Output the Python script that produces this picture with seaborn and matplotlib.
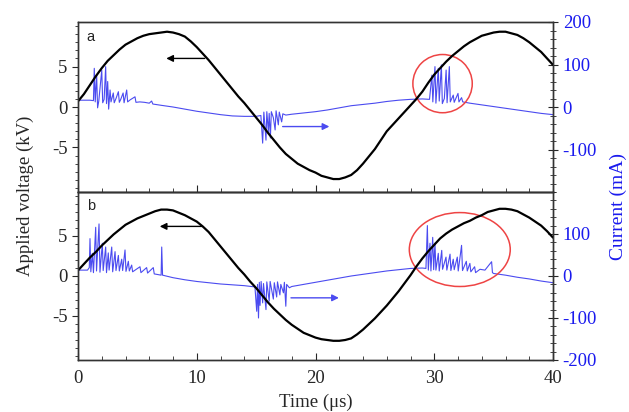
import matplotlib
matplotlib.use('Agg')
import matplotlib.pyplot as plt
from matplotlib.patches import Ellipse
from matplotlib.ticker import MultipleLocator, FixedLocator
import seaborn as sns
import pandas as pd

# applied voltage (kV), read every 0.5 us
time_us = [i * 0.5 for i in range(81)]
volt_a = [0.7, 1.6, 2.7, 3.8, 4.8, 5.7, 6.4, 7.1, 7.7, 8.1, 8.5, 8.8, 9.0, 9.1, 9.2, 9.3,
          9.2, 9.0, 8.7, 8.1, 7.4, 6.6, 5.8, 4.9, 4.0, 3.1, 2.2, 1.3, 0.5, -0.4,
          -1.3, -2.2, -3.2, -4.1, -5.0, -5.8, -6.4, -7.0, -7.4, -7.8, -8.1, -8.5, -8.7,
          -8.9, -8.9, -8.7, -8.4, -7.8, -7.0, -6.1, -5.2, -4.1, -3.0, -2.2, -1.4, -0.6,
          0.2, 1.0, 1.9, 3.0, 4.0, 4.8, 5.6, 6.3, 6.9, 7.5, 8.0, 8.4, 8.8, 9.0, 9.2,
          9.3, 9.3, 9.1, 8.9, 8.5, 8.0, 7.4, 6.8, 6.0, 5.2]
volt_b = [0.7, 1.5, 2.3, 3.0, 3.8, 4.5, 5.2, 5.8, 6.4, 6.8, 7.2, 7.5, 7.8, 8.1, 8.3, 8.3,
          8.2, 7.9, 7.6, 7.2, 6.8, 6.2, 5.5, 4.6, 3.7, 2.8, 1.9, 1.0, 0.2, -0.7,
          -1.5, -2.4, -3.3, -4.1, -4.8, -5.5, -6.1, -6.6, -7.1, -7.4, -7.7, -7.9, -8.0,
          -8.1, -8.1, -8.0, -7.8, -7.3, -6.7, -6.0, -5.3, -4.5, -3.7, -2.8, -1.9, -0.9,
          0.1, 1.2, 2.2, 3.1, 3.9, 4.7, 5.3, 5.8, 6.2, 6.6, 6.9, 7.3, 7.6, 8.0, 8.2,
          8.4, 8.4, 8.3, 8.1, 7.7, 7.3, 6.8, 6.3, 5.6, 4.8]

# discharge current (mA), panel a
cur_a_t = [0, 1.0, 1.3, 1.37, 1.45, 1.57, 1.65, 1.75, 2.0, 2.08, 2.2, 2.33, 2.4, 2.5, 2.58,
           2.7, 2.78, 2.97, 3.05, 3.2, 3.4, 3.48, 3.6, 3.8, 3.88, 4.1, 4.18, 4.4, 4.8, 4.88,
           5.2, 5.6, 6.0, 6.2, 6.3, 7, 8, 9, 10, 11, 12, 13, 14, 15, 15.4, 15.55, 15.65,
           15.83, 15.9, 16.03, 16.1, 16.2, 16.28, 16.45, 16.6, 16.68, 16.87, 16.95, 17.15,
           17.25, 17.5, 18, 19, 20, 21, 22, 23, 24, 25, 26, 27, 28, 29, 29.6, 29.8, 29.88,
           30.06, 30.14, 30.34, 30.42, 30.6, 30.68, 30.85, 31.0, 31.08, 31.27, 31.35, 31.6,
           31.68, 32.0, 32.08, 32.3, 32.4, 33, 34, 35, 36, 37, 38, 39, 40]
cur_a_ma = [16, 16, 15, 91, 12, 75, -2, 14, 87, 10, 18, 95, 8, 60, -5,
            40, 12, 33, 10, 20, 36, 11, 18, 33, 10, 40, 12, 17, 24, 11,
            12, 11, 9, 14, 7, 4, 0, -5, -10, -14, -18, -21, -22, -22, -20, -85, -12,
            -78, -11, -58, -15, -73, -11, -25, -54, -9, -42, -12, -35,
            -16, -19, -17, -14, -11, -7, -2, 3, 6, 9, 13, 16, 18, 19, 18, 75, 12,
            95, 9, 91, 14, 99, 8, 20, 87, 10, 95, 12, 28,
            11, 32, 12, 22, 12, 9, 5, 1, -3, -7, -11, -15, -18]

# discharge current (mA), panel b
cur_b_t = [0, 0.8, 0.95, 1.01, 1.08, 1.21, 1.3, 1.49, 1.56, 1.77, 1.85, 2.05, 2.12, 2.33, 2.4,
           2.55, 2.62, 2.84, 2.92, 3.12, 3.2, 3.4, 3.48, 3.68, 3.76, 3.96, 4.04, 4.24, 4.32,
           4.52, 4.6, 5.22, 5.3, 5.78, 5.86, 6.34, 6.42, 7.0, 7.05, 7.12, 8, 9, 10, 11, 12,
           13, 14, 14.9, 15.05, 15.12, 15.2, 15.27, 15.33, 15.42, 15.55, 15.62, 15.83, 15.9,
           16.1, 16.18, 16.45, 16.53, 16.73, 16.8, 17.0, 17.08, 17.3, 17.38, 17.5, 17.57,
           17.8, 18, 19, 20, 21, 22, 23, 24, 25, 26, 27, 28, 29, 29.3, 29.42, 29.5, 29.64,
           29.72, 29.87, 29.95, 30.06, 30.14, 30.34, 30.42, 30.63, 30.7, 30.99, 31.06, 31.33,
           31.4, 31.6, 31.68, 31.94, 32.02, 32.3, 32.38, 32.7, 32.78, 33.0, 33.08, 33.4,
           33.48, 33.85, 34.27, 34.83, 34.9, 35, 36, 37, 38, 39, 40]
cur_b_ma = [14, 14, 20, 89, 10, 54, 8, 116, 12, 124, 9, 78, 13, 69, 8,
            55, 14, 69, 10, 58, 13, 49, 12, 40, 13, 62, 11, 35, 12,
            26, 10, 22, 8, 20, 7, 20, 5, 2, 69, 2, -4, -9, -13, -16, -19,
            -21, -23, -26, -84, -20, -100, -15, -70, -13, -64, -18, -80, -14,
            -60, -13, -55, -16, -50, -14, -45, -20, -40, -15, -72, -20,
            -28, -25, -20, -15, -10, -5, 0, 4, 8, 12, 15, 18, 19, 18, 120, 14, 78,
            12, 92, 15, 78, 14, 54, 12, 61, 16, 45, 14, 52,
            13, 40, 15, 45, 12, 73, 13, 35, 12, 30, 10, 22,
            8, 16, 14, 34, 8, 6, 2, -3, -7, -12, -16]

volt_ticks = [-5, 0, 5]
cur_ticks_a = [-100, 0, 100, 200]
cur_ticks_b = [-200, -100, 0, 100]
time_ticks = [0, 10, 20, 30, 40]

BLUE = '#4b4bf0'
LABEL_BLUE = '#1a1aee'
RED = '#ee4444'

sns.set_style('ticks')
plt.rcParams['font.family'] = ['Liberation Serif', 'DejaVu Serif']
plt.rcParams['axes.unicode_minus'] = False

fig = plt.figure(figsize=(6.29, 4.12), dpi=100)
ax_a = fig.add_axes([78/629, 1-192/412, 475/629, 170/412])
ax_b = fig.add_axes([78/629, 1-360/412, 475/629, 168/412], sharex=ax_a)

panels = [
    (ax_a, volt_a, cur_a_t, cur_a_ma, cur_ticks_a, 'a'),
    (ax_b, volt_b, cur_b_t, cur_b_ma, cur_ticks_b, 'b'),
]

twins = []
for ax, volt, ct, cma, cticks, tag in panels:
    tw = ax.twinx()
    twins.append(tw)
    cur_df = pd.DataFrame({'t': ct, 'i': cma})
    sns.lineplot(data=cur_df, x='t', y='i', ax=tw, color=BLUE, lw=0.8,
                 estimator=None, sort=False)
    v_df = pd.DataFrame({'t': time_us, 'v': volt})
    sns.lineplot(data=v_df, x='t', y='v', ax=ax, color='black', lw=1.6,
                 estimator=None, sort=False)
    ax.set_zorder(tw.get_zorder() + 1)
    ax.patch.set_visible(False)

    ax.set_xlim(0, 40)
    ax.set_ylim(-10.5, 10.5)
    tw.set_ylim(-200, 200)
    ax.yaxis.set_major_locator(FixedLocator(volt_ticks))
    ax.yaxis.set_minor_locator(MultipleLocator(1))
    tw.yaxis.set_major_locator(FixedLocator(cticks))
    tw.yaxis.set_minor_locator(MultipleLocator(20))
    ax.xaxis.set_major_locator(FixedLocator(time_ticks))
    ax.xaxis.set_minor_locator(MultipleLocator(2))
    ax.set_xlabel('')
    ax.set_ylabel('')
    tw.set_ylabel('')

    ax.tick_params(axis='y', which='major', direction='out', length=4, labelsize=13.5)
    ax.tick_params(axis='y', which='minor', direction='out', length=2)
    ax.tick_params(axis='x', which='major', direction='in', length=5, labelsize=13.5, pad=7)
    ax.tick_params(axis='x', which='minor', direction='in', length=3)
    tw.tick_params(axis='y', which='major', direction='inout', length=7,
                   labelsize=13.5, labelcolor=LABEL_BLUE)
    tw.tick_params(axis='y', which='minor', direction='inout', length=4)

    for sp in list(ax.spines.values()) + list(tw.spines.values()):
        sp.set_linewidth(1.0)
        sp.set_color('#333333')

    ax.text(0.018, 0.89, tag, transform=ax.transAxes, fontsize=10.5,
            family='Liberation Sans', color='#222222')

ax_a.tick_params(axis='x', labelbottom=False)
ax_b.set_xlabel('Time (μs)', fontsize=13.5, labelpad=5)

# arrows
ax_a.annotate('', xy=(7.2, 6.0), xytext=(10.9, 6.0),
              arrowprops=dict(arrowstyle='-|>', color='black', lw=1, mutation_scale=10))
twins[0].annotate('', xy=(21.4, -46), xytext=(17.0, -46),
                  arrowprops=dict(arrowstyle='-|>', color=BLUE, lw=1, mutation_scale=10))
ax_b.annotate('', xy=(6.65, 6.2), xytext=(10.7, 6.2),
              arrowprops=dict(arrowstyle='-|>', color='black', lw=1, mutation_scale=10))
twins[1].annotate('', xy=(22.2, -52), xytext=(17.7, -52),
                  arrowprops=dict(arrowstyle='-|>', color=BLUE, lw=1, mutation_scale=10))

# marked discharge regions
twins[0].add_patch(Ellipse((30.7, 55), 5.0, 137, fill=False, edgecolor=RED, lw=1.1, zorder=5))
twins[1].add_patch(Ellipse((32.15, 63), 8.5, 176, fill=False, edgecolor=RED, lw=1.1, zorder=5))

fig.text(25/629, 1-196/412, 'Applied voltage (kV)', rotation=90, fontsize=13.5,
         ha='center', va='center')
fig.text(618/629, 1-207/412, 'Current (mA)', rotation=90, fontsize=14,
         ha='center', va='center', color=LABEL_BLUE)

fig.savefig('out.png', dpi=100)
